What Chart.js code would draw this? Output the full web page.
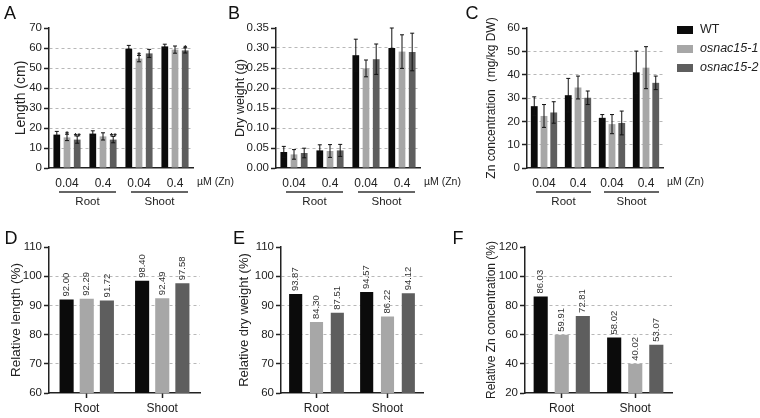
<!DOCTYPE html>
<html><head><meta charset="utf-8">
<script src="https://cdn.jsdelivr.net/npm/chart.js@4.4.1/dist/chart.umd.min.js"></script>
<style>
html,body{margin:0;padding:0;background:#fff;}
body{width:760px;height:418px;position:relative;overflow:hidden;}
canvas{position:absolute;}
</style></head>
<body>
<canvas id="cA"></canvas><canvas id="cB"></canvas><canvas id="cC"></canvas>
<canvas id="cD"></canvas><canvas id="cE"></canvas><canvas id="cF"></canvas>
<script>
// ---------- data ----------
const seriesNames = ['WT', 'osnac15-1', 'osnac15-2'];
const znLevels = ['0.04', '0.4', '0.04', '0.4'];
const tissues = ['Root', 'Shoot'];
const unitLabel = 'µM (Zn)';

const lengthWT = [16.7, 17.2, 59.7, 60.8];
const lengthM1 = [15.3, 15.8, 54.7, 59.2];
const lengthM2 = [14.2, 14.2, 57.3, 58.8];
const lengthErrWT = [1.6, 1.4, 1.6, 1.1];
const lengthErrM1 = [1.6, 1.8, 1.6, 1.8];
const lengthErrM2 = [1.8, 1.6, 2.0, 1.3];
const lengthSigWT = ['', '', '', ''];
const lengthSigM1 = ['*', '', '*', ''];
const lengthSigM2 = ['**', '**', '', '*'];

const dryWT = [0.040, 0.044, 0.282, 0.300];
const dryM1 = [0.034, 0.0425, 0.249, 0.291];
const dryM2 = [0.0375, 0.044, 0.272, 0.290];
const dryErrWT = [0.014, 0.014, 0.040, 0.050];
const dryErrM1 = [0.012, 0.016, 0.021, 0.042];
const dryErrM2 = [0.012, 0.015, 0.038, 0.047];

const znWT = [26.5, 31.2, 21.5, 41.0];
const znM1 = [22.3, 34.5, 18.8, 43.0];
const znM2 = [23.8, 30.1, 19.3, 36.5];
const znErrWT = [4.0, 7.2, 1.4, 9.1];
const znErrM1 = [4.9, 4.9, 4.1, 9.0];
const znErrM2 = [4.6, 2.9, 5.1, 2.9];

const relLengthWT = [92.00, 98.40];
const relLengthM1 = [92.29, 92.49];
const relLengthM2 = [91.72, 97.58];
const relDryWT = [93.87, 94.57];
const relDryM1 = [84.30, 86.22];
const relDryM2 = [87.51, 94.12];
const relZnWT = [86.03, 58.02];
const relZnM1 = [59.91, 40.02];
const relZnM2 = [72.81, 53.07];

// ---------- style ----------
const FONT = "'Liberation Sans', Arial, Helvetica, sans-serif";
const COLORS = ['#0b0b0b', '#a7a7a7', '#5e5e5e'];
const INK = '#222';

// ---------- decoration plugin ----------
const figDecor = {
  id: 'figDecor',
  afterDatasetsDraw(chart, args, o) {
    const ctx = chart.ctx;
    const ys = chart.scales.y;
    ctx.save();
    chart.data.datasets.forEach((ds, di) => {
      const meta = chart.getDatasetMeta(di);
      meta.data.forEach((bar, i) => {
        const v = ds.data[i];
        if (ds.errors) {
          const e = ds.errors[i];
          const yt = ys.getPixelForValue(v + e), yb = ys.getPixelForValue(v - e);
          ctx.strokeStyle = '#111'; ctx.lineWidth = 1;
          ctx.beginPath();
          ctx.moveTo(bar.x, yt); ctx.lineTo(bar.x, yb);
          ctx.moveTo(bar.x - 2, yt); ctx.lineTo(bar.x + 2, yt);
          ctx.moveTo(bar.x - 2, yb); ctx.lineTo(bar.x + 2, yb);
          ctx.stroke();
          if (ds.sig && ds.sig[i]) {
            ctx.fillStyle = '#111';
            ctx.font = 'bold 9px ' + FONT;
            ctx.textAlign = 'center'; ctx.textBaseline = 'alphabetic';
            ctx.fillText(ds.sig[i], bar.x, yt + 3);
          }
        }
        if (o.valueLabels) {
          ctx.save();
          ctx.translate(bar.x, bar.y - 3);
          ctx.rotate(-Math.PI / 2);
          ctx.fillStyle = '#333';
          ctx.font = '9.5px ' + FONT;
          ctx.textAlign = 'left'; ctx.textBaseline = 'middle';
          ctx.fillText(v.toFixed(2), 0, 0);
          ctx.restore();
        }
      });
    });
    ctx.restore();
  },
  afterDraw(chart, args, o) {
    const ctx = chart.ctx;
    const [ox, oy] = o.origin;
    const ca = chart.chartArea;
    const xs = chart.scales.x;
    ctx.save();
    if (o.letter) {
      ctx.fillStyle = '#111';
      ctx.font = '18px ' + FONT;
      ctx.textAlign = 'center'; ctx.textBaseline = 'middle';
      ctx.fillText(o.letter[0], o.letter[1] - ox, o.letter[2] - oy);
    }
    if (o.unit) {
      ctx.fillStyle = INK;
      ctx.font = '10.5px ' + FONT;
      ctx.textAlign = 'left'; ctx.textBaseline = 'middle';
      ctx.fillText(o.unit, ca.right + 4, ca.bottom + 14);
    }
    if (o.brackets) {
      o.brackets.forEach(b => {
        const x1 = xs.getPixelForValue(b[0]) - 8;
        const x2 = xs.getPixelForValue(b[1]) + 13;
        const y = ca.bottom + 24;
        ctx.strokeStyle = '#333'; ctx.lineWidth = 1.5;
        ctx.beginPath(); ctx.moveTo(x1, y); ctx.lineTo(x2, y); ctx.stroke();
        ctx.fillStyle = INK;
        ctx.font = '11.5px ' + FONT;
        ctx.textAlign = 'center'; ctx.textBaseline = 'middle';
        ctx.fillText(b[2], (x1 + x2) / 2, y + 10);
      });
    }
    if (o.legend) {
      const [lx, ly, step] = o.legend;
      chart.data.datasets.forEach((ds, di) => {
        const y = ly + di * step - oy;
        ctx.fillStyle = ds.backgroundColor;
        ctx.fillRect(lx - ox, y - 4, 16, 8);
        ctx.fillStyle = INK;
        ctx.font = (di > 0 ? 'italic ' : '') + '12.5px ' + FONT;
        ctx.textAlign = 'left'; ctx.textBaseline = 'middle';
        ctx.fillText(ds.label, lx - ox + 23, y);
      });
    }
    ctx.restore();
  }
};
Chart.register(figDecor);

function makePanel(id, rect, area, cfg) {
  const cv = document.getElementById(id);
  const [L, T, W, H] = rect;
  cv.width = W; cv.height = H;
  cv.style.left = L + 'px'; cv.style.top = T + 'px';
  cv.style.width = W + 'px'; cv.style.height = H + 'px';
  const [aL, aT, aR, aB] = area;
  const yW = aL - L, xH = T + H - aB;
  const titleLH = cfg.titleSize * 1.2;
  const titlePad = cfg.titleX - L - titleLH / 2;
  const min = cfg.min, max = cfg.max;
  const datasets = cfg.series.map((s, i) => ({
    label: seriesNames[i],
    data: s.data,
    errors: s.errors,
    sig: s.sig,
    backgroundColor: COLORS[i],
    borderWidth: 0,
    categoryPercentage: cfg.catPct,
    barPercentage: cfg.barPct
  }));
  return new Chart(cv, {
    type: 'bar',
    data: { labels: cfg.labels, datasets },
    options: {
      responsive: false, animation: false, devicePixelRatio: 1,
      layout: { padding: { left: 0, top: aT - T, right: L + W - aR, bottom: 0 } },
      plugins: {
        legend: { display: false }, tooltip: { enabled: false },
        figDecor: Object.assign({ origin: [L, T] }, cfg.decor)
      },
      scales: {
        x: {
          type: 'category',
          offset: true,
          grid: cfg.xTicks
            ? { display: true, offset: false, drawOnChartArea: false, drawTicks: true, tickLength: 5, tickColor: INK, tickWidth: 1.5 }
            : { display: false, drawTicks: false },
          border: { display: true, color: INK, width: 1.5 },
          ticks: { color: INK, font: { size: cfg.xFont, family: FONT }, padding: cfg.xPad, maxRotation: 0, autoSkip: false },
          afterFit: s => { s.height = xH; }
        },
        y: {
          min, max,
          ticks: {
            stepSize: cfg.step, color: INK, padding: 2,
            font: { size: 11.5, family: FONT },
            callback: v => cfg.decimals ? Number(v).toFixed(cfg.decimals) : String(Math.round(v))
          },
          grid: {
            color: c => (Math.abs(c.tick.value - min) < 1e-9 || Math.abs(c.tick.value - max) < 1e-9) ? 'rgba(0,0,0,0)' : '#b8b8b8',
            lineWidth: 1, tickColor: INK, tickLength: 5, tickWidth: 1.5, drawTicks: true
          },
          border: { display: true, color: INK, width: 1.5, dash: [3, 3] },
          title: {
            display: true, text: cfg.title, color: INK,
            font: { size: cfg.titleSize, family: FONT },
            padding: { top: titlePad, bottom: 0 }
          },
          afterFit: s => { s.width = yW; }
        }
      }
    }
  });
}

const topBrackets = [[0, 1, tissues[0]], [2, 3, tissues[1]]];

makePanel('cA', [0, 0, 245, 215], [49, 28, 193, 168], {
  labels: znLevels, min: 0, max: 70, step: 10, decimals: 0,
  title: 'Length (cm)', titleSize: 14, titleX: 21,
  catPct: 0.85, barPct: 0.66, xFont: 12, xPad: 8, xTicks: false,
  series: [
    { data: lengthWT, errors: lengthErrWT, sig: lengthSigWT },
    { data: lengthM1, errors: lengthErrM1, sig: lengthSigM1 },
    { data: lengthM2, errors: lengthErrM2, sig: lengthSigM2 }
  ],
  decor: { letter: ['A', 10, 14], unit: unitLabel, brackets: topBrackets }
});

makePanel('cB', [215, 0, 265, 215], [276, 28, 420, 168], {
  labels: znLevels, min: 0, max: 0.35, step: 0.05, decimals: 2,
  title: 'Dry weight (g)', titleSize: 12.5, titleX: 241,
  catPct: 0.85, barPct: 0.66, xFont: 12, xPad: 8, xTicks: false,
  series: [
    { data: dryWT, errors: dryErrWT },
    { data: dryM1, errors: dryErrM1 },
    { data: dryM2, errors: dryErrM2 }
  ],
  decor: { letter: ['B', 234, 14], unit: unitLabel, brackets: topBrackets }
});

makePanel('cC', [455, 0, 305, 215], [527, 28, 663, 168], {
  labels: znLevels, min: 0, max: 60, step: 10, decimals: 0,
  title: 'Zn concentration（mg/kg DW)', titleSize: 12, titleX: 492,
  catPct: 0.86, barPct: 0.7, xFont: 12, xPad: 8, xTicks: false,
  series: [
    { data: znWT, errors: znErrWT },
    { data: znM1, errors: znErrM1 },
    { data: znM2, errors: znErrM2 }
  ],
  decor: { letter: ['C', 472, 14], unit: unitLabel, brackets: topBrackets, legend: [677, 30, 19] }
});

makePanel('cD', [0, 215, 240, 203], [49, 247, 200, 393], {
  labels: tissues, min: 60, max: 110, step: 10, decimals: 0,
  title: 'Relative length (%)', titleSize: 13.5, titleX: 16,
  catPct: 0.8, barPct: 0.7, xFont: 12, xPad: 3, xTicks: true,
  series: [{ data: relLengthWT }, { data: relLengthM1 }, { data: relLengthM2 }],
  decor: { letter: ['D', 11, 239], valueLabels: true }
});

makePanel('cE', [225, 215, 230, 203], [281, 247, 423, 393], {
  labels: tissues, min: 60, max: 110, step: 10, decimals: 0,
  title: 'Relative dry weight (%)', titleSize: 13, titleX: 244,
  catPct: 0.88, barPct: 0.63, xFont: 12, xPad: 3, xTicks: true,
  series: [{ data: relDryWT }, { data: relDryM1 }, { data: relDryM2 }],
  decor: { letter: ['E', 239, 239], valueLabels: true }
});

makePanel('cF', [445, 215, 315, 203], [525, 247, 672, 393], {
  labels: tissues, min: 20, max: 120, step: 20, decimals: 0,
  title: 'Relative Zn concentration (%)', titleSize: 12, titleX: 492,
  catPct: 0.86, barPct: 0.67, xFont: 12, xPad: 3, xTicks: true,
  series: [{ data: relZnWT }, { data: relZnM1 }, { data: relZnM2 }],
  decor: { letter: ['F', 458, 239], valueLabels: true }
});
</script>
</body></html>
